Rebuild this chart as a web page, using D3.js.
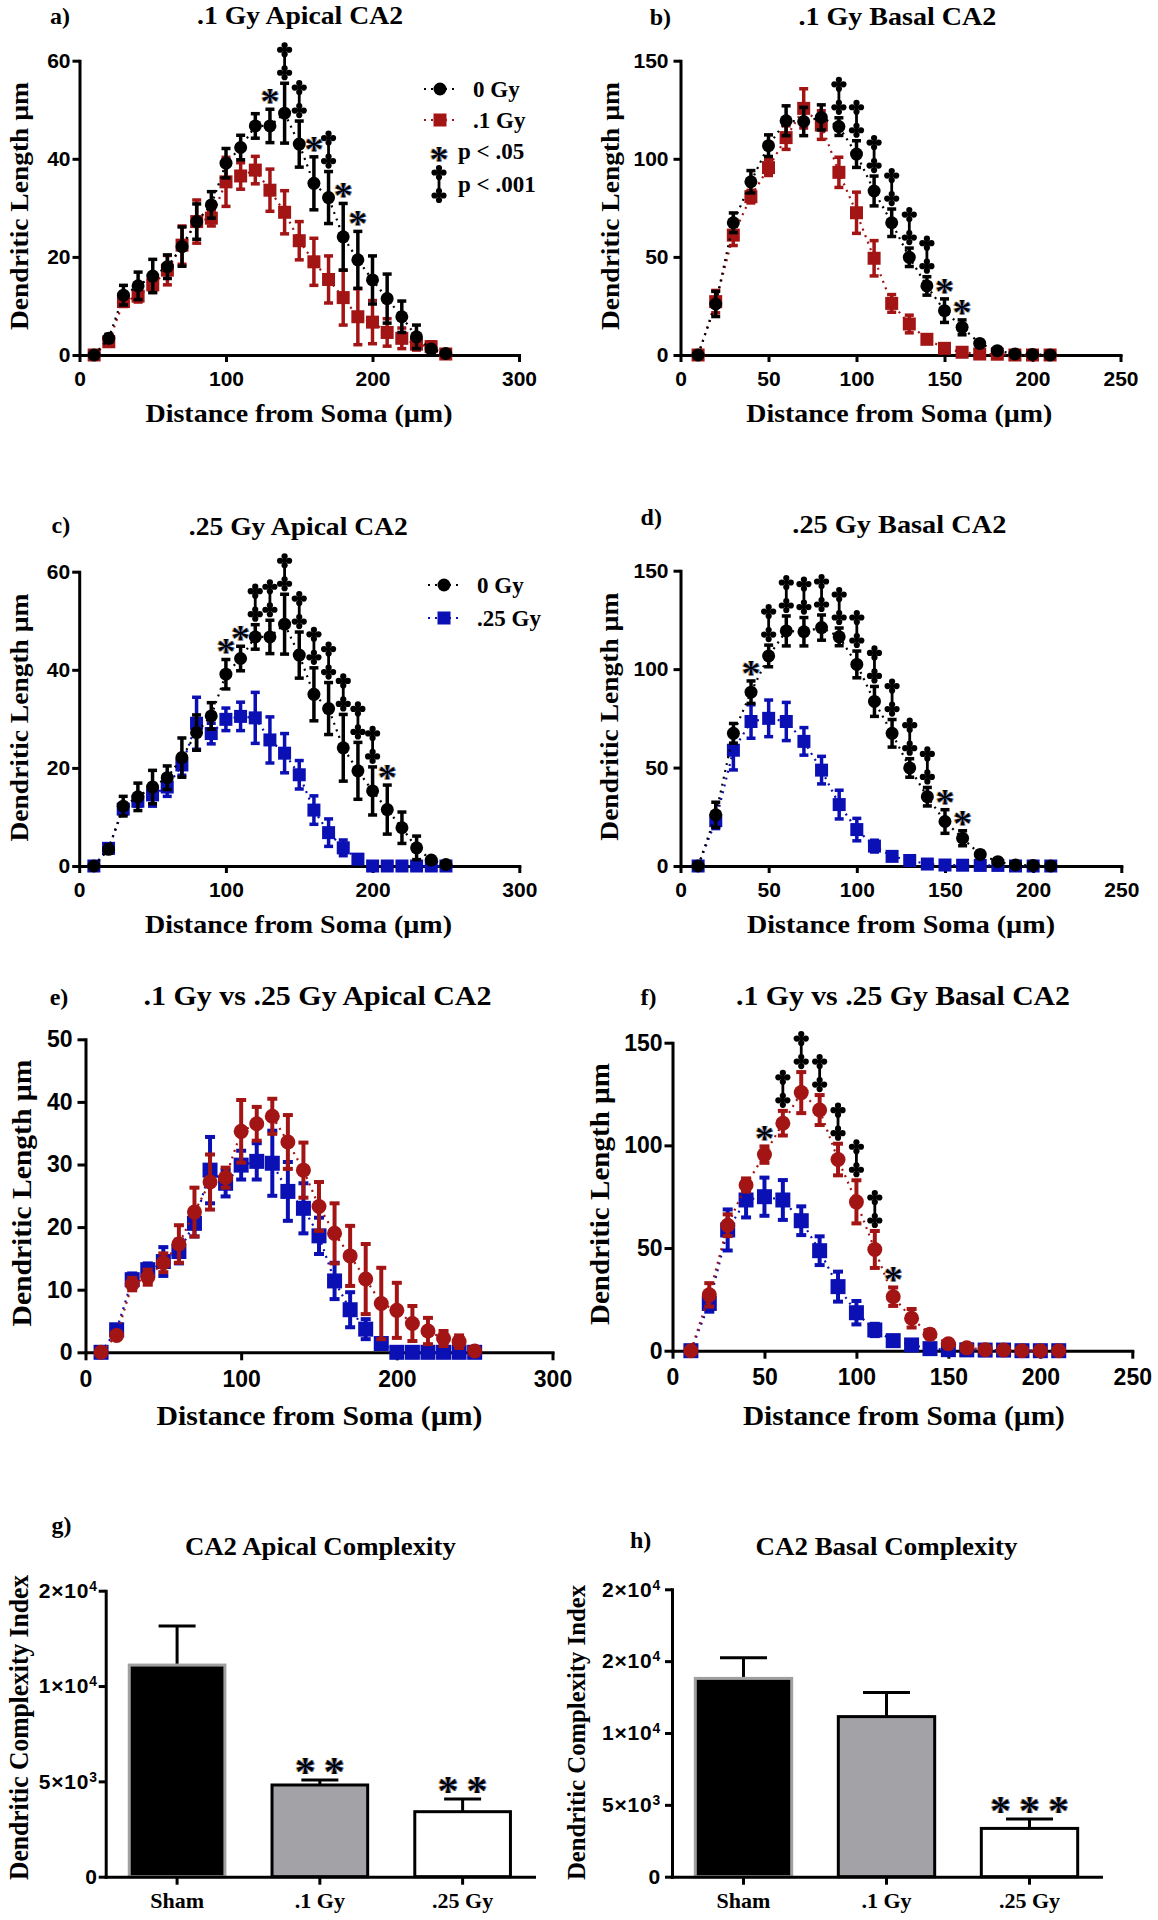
<!DOCTYPE html>
<html><head><meta charset="utf-8">
<script src="https://cdn.jsdelivr.net/npm/d3@7"></script>
<style>body{margin:0;background:#fff}svg{display:block}</style>
</head><body>
<svg id="fig" width="1158" height="1920"></svg>
<script>
// ---------------- DATA ----------------
const distApical = [10,20,30,40,50,60,70,80,90,100,110,120,130,140,150,160,170,180,190,200,210,220,230,240,250];
const distBasal = [10,20,30,40,50,60,70,80,90,100,110,120,130,140,150,160,170,180,190,200,210];

const apicalSham    = [0,3.4,12.2,14.1,16.1,18.0,22.1,27.2,30.6,39.1,42.3,46.7,46.7,49.3,43.0,35.0,32.1,24.1,19.4,15.3,11.5,7.8,3.7,1.2,0.3];
const apicalShamSem = [0,0.8,2.0,2.8,3.4,2.4,4.0,3.6,2.7,3.0,2.5,2.5,3.4,6.1,4.7,5.4,5.3,6.8,5.8,4.9,5.0,3.2,2.4,0.5,0.3];
const apicalLow     = [0,2.7,10.9,12.0,14.3,17.3,22.4,27.2,27.9,35.3,36.5,37.7,33.6,29.1,23.3,19.0,15.4,11.7,7.8,6.7,4.6,3.4,2.2,1.7,0.2];
const apicalLowSem  = [0,0.5,1.0,1.2,1.5,3.0,3.9,4.4,1.6,5.0,2.7,2.8,4.3,4.4,3.9,4.8,4.8,5.6,5.7,4.4,2.8,2.1,1.2,1.0,0.2];
const apicalHigh    = [0,3.6,11.6,13.2,14.5,16.1,20.6,29.1,27.0,29.9,30.5,30.2,25.7,23.0,18.6,11.4,6.8,3.7,1.4,0,0,0,0,0,0];
const apicalHighSem = [0,0.5,1.0,1.0,2.3,1.9,2.1,5.3,2.1,2.3,2.9,5.2,4.7,4.0,2.9,2.9,2.8,1.6,0.5,0,0,0,0,0,0];

const basalSham     = [0,26.0,67.4,88.3,106.7,119.4,119.0,121.1,116.4,102.4,83.6,67.4,49.8,35.2,22.6,14.1,5.9,2.2,0.5,0.3,0];
const basalShamSem  = [0,6.4,5.0,5.7,5.5,7.6,7.2,6.4,4.5,6.8,7.6,7.0,4.7,4.7,6.0,3.8,1.5,0.8,0.3,0.2,0];
const basalLow      = [0,27.2,61.1,80.7,95.5,110.8,125.7,117.2,93.1,72.5,49.3,26.3,15.8,8.0,3.4,1.4,0.5,0.4,0,0,0];
const basalLowSem   = [0,5.7,5.3,3.2,4.0,6.0,10.0,7.3,7.7,10.5,9.0,4.5,4.5,2.0,1.0,0.5,0.3,0.2,0,0,0];
const basalHigh     = [0,23.0,58.8,73.4,75.0,73.4,63.3,48.7,31.2,18.5,10.1,4.9,2.8,1.0,0.5,0.4,0.3,0.3,0,0,0];
const basalHighSem  = [0,4.0,10.0,8.5,9.3,9.7,7.0,7.0,7.3,5.7,3.0,2.0,1.0,0.5,0,0,0,0,0,0,0];

const xTicksApical = [0,100,200,300];
const xTicksBasal = [0,50,100,150,200,250];
const yTicksApical = [0,20,40,60];
const yTicksApicalCmp = [0,10,20,30,40,50];
const yTicksBasal = [0,50,100,150];

// significance marks (distance, symbol)
const sigA = [[130,"*"],[140,"‡"],[150,"‡"],[160,"*"],[170,"‡"],[180,"*"],[190,"*"]];
const sigB = [[90,"‡"],[100,"‡"],[110,"‡"],[120,"‡"],[130,"‡"],[140,"‡"],[150,"*"],[160,"*"]];
const sigC = [[100,"*"],[110,"*"],[120,"‡"],[130,"‡"],[140,"‡"],[150,"‡"],[160,"‡"],[170,"‡"],[180,"‡"],[190,"‡"],[200,"‡"],[210,"*"]];
const sigD = [[40,"*"],[50,"‡"],[60,"‡"],[70,"‡"],[80,"‡"],[90,"‡"],[100,"‡"],[110,"‡"],[120,"‡"],[130,"‡"],[140,"‡"],[150,"*"],[160,"*"]];
const sigF = [[50,"*"],[60,"‡"],[70,"‡"],[80,"‡"],[90,"‡"],[100,"‡"],[110,"‡"],[120,"*"]];

const groups = ["Sham", ".1 Gy", ".25 Gy"];
const apicalCDI = [11100, 4810, 3410];
const apicalCDISem = [2050, 260, 660];
const basalCDI = [13800, 11140, 3360];
const basalCDISem = [1440, 1670, 650];
const apicalCDIStars = ["", "**", "**"];
const basalCDIStars = ["", "", "***"];
const cdiTicksG = [0, 5000, 10000, 15000];
const cdiTickLabelsG = [["0",""],["5×10","3"],["1×10","4"],["2×10","4"]];
const cdiTicksH = [0, 5000, 10000, 15000, 20000];
const cdiTickLabelsH = [["0",""],["5×10","3"],["1×10","4"],["2×10","4"],["2×10","4"]];

// ---------------- DRAWING ----------------
const SERIF = "'Liberation Serif','Times New Roman',serif";
const SANS = "'Liberation Sans',Arial,sans-serif";
const RED = "#a31414", BLUE = "#0b10b4", BLACK = "#000";

const svg = d3.select("#fig");
const defs = svg.append("defs");
const flt = defs.append("filter").attr("id","fringe").attr("x","-50%").attr("y","-50%").attr("width","200%").attr("height","200%");
flt.append("feOffset").attr("in","SourceAlpha").attr("dx",-1.1).attr("dy",0).attr("result","o1");
flt.append("feFlood").attr("flood-color","#e8952a").attr("result","c1");
flt.append("feComposite").attr("in","c1").attr("in2","o1").attr("operator","in").attr("result","f1");
flt.append("feOffset").attr("in","SourceAlpha").attr("dx",1.1).attr("dy",0).attr("result","o2");
flt.append("feFlood").attr("flood-color","#3a86e8").attr("result","c2");
flt.append("feComposite").attr("in","c2").attr("in2","o2").attr("operator","in").attr("result","f2");
const mrg = flt.append("feMerge");
mrg.append("feMergeNode").attr("in","f1"); mrg.append("feMergeNode").attr("in","f2"); mrg.append("feMergeNode").attr("in","SourceGraphic");

svg.append("rect").attr("width",1158).attr("height",1920).attr("fill","#fff");

function drawStar(g, cx, cy, fs, txt="*", spacing=0) {
  g.append("text").attr("x",cx).attr("y",cy+0.55*fs).attr("text-anchor","middle")
    .attr("font-family",SERIF).attr("font-weight","bold").attr("font-size",fs).attr("fill","#000")
    .attr("letter-spacing",spacing).attr("filter","url(#fringe)").text(txt);
}
function drawDagger(g, cx, cy) {
  const grp = g.append("g").attr("transform",`translate(${cx},${cy})`).attr("fill","#000");
  grp.append("line").attr("x1",0).attr("x2",0).attr("y1",-11).attr("y2",11).attr("stroke","#000").attr("stroke-width",2.8);
  [-11.5,11.5].forEach(oy => {
    [[0,-1],[0,1],[-1,0],[1,0]].forEach(([dx,dy]) => {
      grp.append("circle").attr("cx",dx*4.5).attr("cy",oy+dy*4.5).attr("r",3.1);
    });
    grp.append("circle").attr("cx",0).attr("cy",oy).attr("r",2.4);
  });
}
function styleAxis(a, w, fs) {
  a.select(".domain").attr("stroke","#000").attr("stroke-width",w).attr("stroke-linecap","square");
  a.selectAll(".tick line").attr("stroke","#000").attr("stroke-width",w);
  a.selectAll(".tick text").attr("font-family",SANS).attr("font-weight","bold").attr("font-size",fs).attr("fill","#000");
}
function boldText(g, x, y, txt, fs, opts={}) {
  const t = g.append("text").attr("x",x).attr("y",y).attr("font-family",SERIF).attr("font-weight","bold")
    .attr("font-size",fs).attr("fill","#000").attr("text-anchor",opts.anchor||"start").text(txt);
  if (opts.len) t.attr("textLength",opts.len).attr("lengthAdjust","spacingAndGlyphs");
  if (opts.rotate) t.attr("transform",`rotate(-90,${x},${y})`);
  return t;
}
function marker(g, shape, cx, cy, size, color) {
  if (shape === "circle") g.append("circle").attr("cx",cx).attr("cy",cy).attr("r",size/2).attr("fill",color);
  else g.append("rect").attr("x",cx-size/2).attr("y",cy-size/2).attr("width",size).attr("height",size).attr("fill",color);
}

function linePanel(c) {
  const g = svg.append("g");
  const x = d3.scaleLinear().domain(c.xDomain).range([c.left, c.right]);
  const y = d3.scaleLinear().domain(c.yDomain).range([c.bottom, c.top]);
  const ax = g.append("g").attr("transform",`translate(0,${c.bottom})`)
    .call(d3.axisBottom(x).tickValues(c.xTicks).tickSize(c.tick).tickSizeOuter(0).tickPadding(c.xPad).tickFormat(d3.format("d")));
  const ay = g.append("g").attr("transform",`translate(${c.left},0)`)
    .call(d3.axisLeft(y).tickValues(c.yTicks).tickSize(c.tick).tickSizeOuter(0).tickPadding(c.yPad).tickFormat(d3.format("d")));
  styleAxis(ax, 3, c.tickFs); styleAxis(ay, 3, c.tickFs);

  c.series.forEach(s => {
    const pts = s.x.map((xv,i) => ({x:xv, m:s.mean[i], e:s.sem[i]}));
    g.append("path").datum(pts).attr("d", d3.line().x(d=>x(d.x)).y(d=>y(d.m)))
      .attr("fill","none").attr("stroke",s.color).attr("stroke-width",2.2).attr("stroke-dasharray","2 5");
    const eg = g.append("g").attr("stroke",s.color).attr("stroke-width",c.errW);
    pts.filter(d => d.e > 0).forEach(d => {
      const px = x(d.x), yt = y(d.m + d.e), yb = y(Math.max(0, d.m - d.e));
      eg.append("line").attr("x1",px).attr("x2",px).attr("y1",yt).attr("y2",yb);
      eg.append("line").attr("x1",px-c.capW/2).attr("x2",px+c.capW/2).attr("y1",yt).attr("y2",yt);
      eg.append("line").attr("x1",px-c.capW/2).attr("x2",px+c.capW/2).attr("y1",yb).attr("y2",yb);
    });
    const mg = g.append("g");
    pts.forEach(d => marker(mg, s.shape, x(d.x), y(d.m), s.shape==="circle"?c.dot:c.sq, s.color));
  });

  if (c.sig) {
    const ref = c.series[c.series.length-1];
    c.sig.forEach(([xv, sym]) => {
      const i = ref.x.indexOf(xv);
      const top = y(ref.mean[i] + ref.sem[i]);
      if (sym === "*") drawStar(g, x(xv), top - 16, 38);
      else drawDagger(g, x(xv), top - 22);
    });
  }
  boldText(g, c.titleX, c.titleY, c.title, c.titleFs, {anchor:"middle", len:c.titleLen});
  boldText(g, c.letterX, c.letterY, c.letter, 24);
  boldText(g, c.ylabX, c.ylabY, "Dendritic Length µm", c.labFs, {anchor:"middle", len:c.ylabLen, rotate:true});
  boldText(g, c.xlabX, c.xlabY, "Distance from Soma (µm)", c.labFs, {anchor:"middle", len:c.xlabLen});

  if (c.legend) {
    c.legend.forEach(L => {
      if (L.shape) {
        g.append("line").attr("x1",L.x-16).attr("x2",L.x+16).attr("y1",L.y).attr("y2",L.y)
          .attr("stroke",L.color).attr("stroke-width",2.2).attr("stroke-dasharray","2 5");
        marker(g, L.shape, L.x, L.y, L.shape==="circle"?c.dot:c.sq, L.color);
      } else if (L.sym === "*") drawStar(g, L.x, L.y, 38);
      else drawDagger(g, L.x, L.y);
      boldText(g, L.tx, L.y + 8, L.label, 23);
    });
  }
}

function sApical(mean, sem, color, shape){ return {x:distApical, mean, sem, color, shape}; }
function sBasal(mean, sem, color, shape){ return {x:distBasal, mean, sem, color, shape}; }

// a
linePanel({left:79.5, right:519, top:60.7, bottom:355, xDomain:[0,300], yDomain:[0,60],
  xTicks:xTicksApical, yTicks:yTicksApical, tick:7, xPad:9, yPad:2, tickFs:21,
  errW:3.5, capW:9, dot:13, sq:13,
  series:[sApical(apicalLow, apicalLowSem, RED, "square"), sApical(apicalSham, apicalShamSem, BLACK, "circle")],
  sig:sigA, title:".1 Gy Apical CA2", titleX:300, titleY:24, titleLen:206, titleFs:25,
  letter:"a)", letterX:50, letterY:24,
  ylabX:27.6, ylabY:206, ylabLen:248, xlabX:299, xlabY:422, xlabLen:307, labFs:26,
  legend:[{shape:"circle", color:BLACK, x:440, y:89, tx:473, label:"0 Gy"},
          {shape:"square", color:RED, x:440, y:120, tx:473, label:".1 Gy"},
          {sym:"*", x:439, y:151, tx:458, label:"p < .05"},
          {sym:"‡", x:439, y:184, tx:458, label:"p < .001"}]
});
// b
linePanel({left:680.5, right:1120.5, top:60.7, bottom:355, xDomain:[0,250], yDomain:[0,150],
  xTicks:xTicksBasal, yTicks:yTicksBasal, tick:7, xPad:9, yPad:5, tickFs:21,
  errW:3.5, capW:9, dot:13, sq:13,
  series:[sBasal(basalLow, basalLowSem, RED, "square"), sBasal(basalSham, basalShamSem, BLACK, "circle")],
  sig:sigB, title:".1 Gy Basal CA2", titleX:897.4, titleY:25, titleLen:198, titleFs:25,
  letter:"b)", letterX:649.7, letterY:25,
  ylabX:618.5, ylabY:206, ylabLen:248, xlabX:899.3, xlabY:422, xlabLen:306, labFs:26
});
// c
linePanel({left:79.2, right:519.3, top:571.7, bottom:866, xDomain:[0,300], yDomain:[0,60],
  xTicks:xTicksApical, yTicks:yTicksApical, tick:7, xPad:9, yPad:2, tickFs:21,
  errW:3.5, capW:9, dot:13, sq:13,
  series:[sApical(apicalHigh, apicalHighSem, BLUE, "square"), sApical(apicalSham, apicalShamSem, BLACK, "circle")],
  sig:sigC, title:".25 Gy Apical CA2", titleX:298.3, titleY:535, titleLen:219, titleFs:25,
  letter:"c)", letterX:51.6, letterY:533,
  ylabX:27.6, ylabY:717.5, ylabLen:248, xlabX:298.5, xlabY:933, xlabLen:307, labFs:26,
  legend:[{shape:"circle", color:BLACK, x:444, y:585, tx:477, label:"0 Gy"},
          {shape:"square", color:BLUE, x:444, y:618, tx:477, label:".25 Gy"}]
});
// d
linePanel({left:680.5, right:1121.3, top:570.7, bottom:866, xDomain:[0,250], yDomain:[0,150],
  xTicks:xTicksBasal, yTicks:yTicksBasal, tick:7, xPad:9, yPad:5, tickFs:21,
  errW:3.5, capW:9, dot:13, sq:13,
  series:[sBasal(basalHigh, basalHighSem, BLUE, "square"), sBasal(basalSham, basalShamSem, BLACK, "circle")],
  sig:sigD, title:".25 Gy Basal CA2", titleX:899.3, titleY:533, titleLen:214, titleFs:25,
  letter:"d)", letterX:640.6, letterY:525,
  ylabX:618.5, ylabY:716.7, ylabLen:248, xlabX:901, xlabY:933, xlabLen:308, labFs:26
});
// e
linePanel({left:85.5, right:552.5, top:1039.3, bottom:1352.3, xDomain:[0,300], yDomain:[0,50],
  xTicks:xTicksApical, yTicks:yTicksApicalCmp, tick:8, xPad:10, yPad:5, tickFs:23,
  errW:4, capW:10, dot:15, sq:15,
  series:[sApical(apicalHigh, apicalHighSem, BLUE, "square"), sApical(apicalLow, apicalLowSem, RED, "circle")],
  sig:null, title:".1 Gy vs .25 Gy Apical CA2", titleX:317.5, titleY:1005, titleLen:348, titleFs:27,
  letter:"e)", letterX:49.7, letterY:1005,
  ylabX:31.3, ylabY:1193, ylabLen:267, xlabX:319.5, xlabY:1425, xlabLen:326, labFs:28
});
// f
linePanel({left:672.5, right:1132.3, top:1042.7, bottom:1350.7, xDomain:[0,250], yDomain:[0,150],
  xTicks:xTicksBasal, yTicks:yTicksBasal, tick:8, xPad:10, yPad:2, tickFs:23,
  errW:4, capW:10, dot:15, sq:15,
  series:[sBasal(basalHigh, basalHighSem, BLUE, "square"), sBasal(basalLow, basalLowSem, RED, "circle")],
  sig:sigF, title:".1 Gy vs .25 Gy Basal CA2", titleX:903, titleY:1005, titleLen:334, titleFs:27,
  letter:"f)", letterX:640.6, letterY:1005,
  ylabX:609.4, ylabY:1194, ylabLen:262, xlabX:903.9, xlabY:1425, xlabLen:322, labFs:28
});

function barPanel(c) {
  const g = svg.append("g");
  const x = d3.scaleBand().domain(groups).range([c.left, c.right]).paddingInner(c.pad).paddingOuter(c.pad/2);
  const y = d3.scaleLinear().domain(c.yDomain).range([c.bottom, c.top]);
  const fills = ["#000", "#a3a3a7", "#fff"], strokes = ["#a0a0a0", "#000", "#000"];
  const bg = g.append("g");
  groups.forEach((grp, i) => {
    const bx = x(grp), bw = x.bandwidth(), cx = bx + bw/2;
    const ytop = y(c.mean[i] + c.sem[i]);
    bg.append("line").attr("x1",cx).attr("x2",cx).attr("y1",y(c.mean[i])).attr("y2",ytop).attr("stroke","#000").attr("stroke-width",3);
    bg.append("line").attr("x1",cx-c.capW/2).attr("x2",cx+c.capW/2).attr("y1",ytop).attr("y2",ytop).attr("stroke","#000").attr("stroke-width",3);
    bg.append("rect").attr("x",bx).attr("y",y(c.mean[i])).attr("width",bw).attr("height",y(0)-y(c.mean[i]))
      .attr("fill",fills[i]).attr("stroke",strokes[i]).attr("stroke-width",3);
    if (c.stars[i]) drawStar(g, cx + 4, ytop - 17, 42, c.stars[i], 8);
  });
  const ax = g.append("g").attr("transform",`translate(0,${c.bottom})`)
    .call(d3.axisBottom(x).tickSize(8).tickSizeOuter(0).tickPadding(8));
  styleAxis(ax, 3, 22);
  ax.selectAll(".tick text").attr("font-family",SERIF).attr("font-size",22);
  const ay = g.append("g").attr("transform",`translate(${c.left},0)`)
    .call(d3.axisLeft(y).tickValues(c.ticks).tickSize(7).tickSizeOuter(0).tickPadding(c.yPad));
  styleAxis(ay, 3, 21);
  ay.selectAll(".tick text").attr("letter-spacing",0.8).each(function(d, i) {
    const t = d3.select(this); t.text(null);
    t.append("tspan").text(c.tickLabels[i][0]);
    if (c.tickLabels[i][1]) t.append("tspan").attr("dy","-0.5em").attr("font-size","0.66em").text(c.tickLabels[i][1]);
  });
  boldText(g, c.titleX, c.titleY, c.title, 25, {anchor:"middle", len:c.titleLen});
  boldText(g, c.letterX, c.letterY, c.letter, 24);
  boldText(g, c.ylabX, c.ylabY, "Dendritic Complexity Index", c.labFs, {anchor:"middle", len:c.ylabLen, rotate:true});
}

barPanel({left:105.7, right:534, top:1590.7, bottom:1876.7, yDomain:[0,15000], pad:0.33,
  mean:apicalCDI, sem:apicalCDISem, stars:apicalCDIStars, capW:37, ticks:cdiTicksG, tickLabels:cdiTickLabelsG, yPad:1,
  title:"CA2 Apical Complexity", titleX:320.4, titleY:1555, titleLen:271, letter:"g)", letterX:51.6, letterY:1533,
  ylabX:27.6, ylabY:1727.5, ylabLen:305, labFs:27});
barPanel({left:672, right:1101, top:1589.3, bottom:1876.7, yDomain:[0,20000], pad:0.326,
  mean:basalCDI, sem:basalCDISem, stars:basalCDIStars, capW:47, ticks:cdiTicksH, tickLabels:cdiTickLabelsH, yPad:4,
  title:"CA2 Basal Complexity", titleX:886.5, titleY:1555, titleLen:262, letter:"h)", letterX:630, letterY:1548,
  ylabX:584.7, ylabY:1732.5, ylabLen:295, labFs:26});
</script>
</body></html>
